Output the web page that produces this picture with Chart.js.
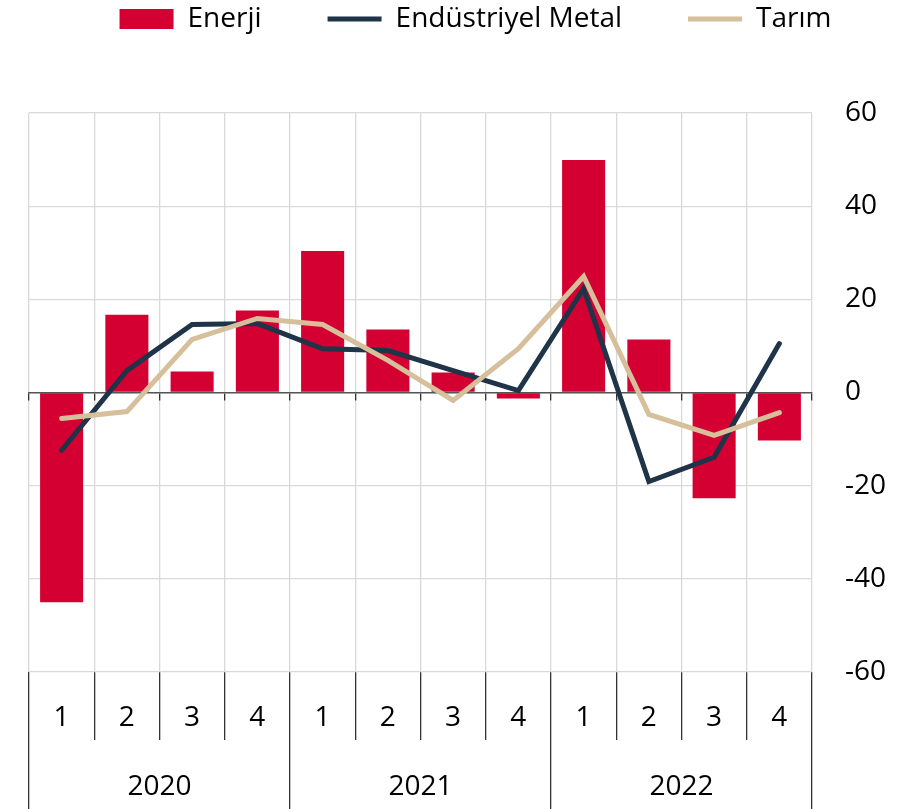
<!DOCTYPE html>
<html>
<head>
<meta charset="utf-8">
<script src="https://cdn.jsdelivr.net/npm/chart.js@4/dist/chart.umd.min.js"></script>
<style>
  html, body { margin: 0; padding: 0; background: #fff; }
  #wrap { width: 922px; height: 809px; }
</style>
</head>
<body>
<div id="wrap"><canvas id="chart"></canvas></div>
<script>
const quarters = ['1', '2', '3', '4', '1', '2', '3', '4', '1', '2', '3', '4'];
const years = ['2020', '2021', '2022'];
const enerji = [-45, 16.7, 4.5, 17.6, 30.4, 13.5, 4.3, -1.3, 49.9, 11.4, -22.7, -10.3];
const metal = [-12.4, 4.7, 14.6, 14.8, 9.4, 9.0, 4.7, 0.4, 22.3, -19.1, -13.9, 10.5];
const tarim = [-5.6, -4.1, 11.4, 15.9, 14.6, 6.9, -1.7, 9.4, 24.9, -4.7, -9.2, -4.3];
const yTicks = [-60, -40, -20, 0, 20, 40, 60];

Chart.defaults.font.family = '"Open Sans", "Noto Sans", sans-serif';
Chart.defaults.color = '#000';

// extra room under the legend
const legendMargin = {
    id: 'legendMargin',
    beforeInit(chart) {
        const fit = chart.legend.fit;
        chart.legend.fit = function () {
            fit.bind(chart.legend)();
            this.height += 70;
        };
    }
};

const chart = new Chart(
    document.getElementById('chart'),
    {
        type: 'bar',
        data: {
            labels: quarters,
            datasets: [
                {
                    label: 'Enerji',
                    data: enerji,
                    backgroundColor: '#d50032',
                    borderWidth: 0,
                    pointStyle: 'rect',
                    barPercentage: 0.66,
                    categoryPercentage: 1.0,
                    order: 3
                },
                {
                    type: 'line',
                    label: 'Endüstriyel Metal',
                    data: metal,
                    borderColor: '#1f3349',
                    backgroundColor: '#1f3349',
                    borderWidth: 5,
                    borderCapStyle: 'round',
                    pointRadius: 0,
                    pointStyle: 'line',
                    tension: 0,
                    order: 2
                },
                {
                    type: 'line',
                    label: 'Tarım',
                    data: tarim,
                    borderColor: '#d6bf9b',
                    backgroundColor: '#d6bf9b',
                    borderWidth: 5,
                    borderCapStyle: 'round',
                    pointRadius: 0,
                    pointStyle: 'line',
                    tension: 0,
                    order: 1
                }
            ]
        },
        options: {
            responsive: true,
            maintainAspectRatio: false,
            animation: false,
            layout: {
                padding: { top: -61, left: 29, right: 0, bottom: 0 }
            },
            plugins: {
                tooltip: { enabled: false },
                legend: {
                    reverse: true,
                    labels: {
                        usePointStyle: true,
                        pointStyleWidth: 54,
                        boxHeight: 20,
                        padding: 66,
                        font: { size: 28 },
                        color: '#000'
                    }
                }
            },
            scales: {
                x: {
                    type: 'category',
                    position: 'bottom',
                    weight: 0,
                    offset: true,
                    grid: {
                        offset: true,
                        color: '#d9d9d9',
                        tickColor: '#333',
                        tickLength: 68,
                        lineWidth: 1.3
                    },
                    border: { display: false },
                    ticks: {
                        padding: -39,
                        font: { size: 28 },
                        color: '#000',
                        maxRotation: 0,
                        autoSkip: false
                    },
                    afterFit: (scale) => { scale.height = 68; }
                },
                x2: {
                    type: 'category',
                    labels: years,
                    position: 'bottom',
                    weight: 1,
                    offset: true,
                    grid: {
                        offset: true,
                        drawOnChartArea: false,
                        tickColor: '#333',
                        tickLength: 69,
                        lineWidth: 1.3
                    },
                    border: { display: false },
                    ticks: {
                        padding: -39,
                        font: { size: 28 },
                        color: '#000',
                        maxRotation: 0
                    },
                    afterFit: (scale) => { scale.height = 69; }
                },
                x0: {
                    type: 'category',
                    labels: quarters,
                    position: { y: 0 },
                    offset: true,
                    grid: {
                        offset: true,
                        drawOnChartArea: false,
                        tickColor: '#333',
                        tickLength: 7,
                        lineWidth: 1.3
                    },
                    border: { display: true, color: '#555', width: 1.5 },
                    ticks: { display: false }
                },
                y: {
                    position: 'right',
                    min: -60,
                    max: 60,
                    afterBuildTicks: (scale) => {
                        scale.ticks = yTicks.map(v => ({ value: v }));
                    },
                    grid: {
                        color: '#d9d9d9',
                        drawTicks: false,
                        lineWidth: 1.3
                    },
                    border: { display: false },
                    ticks: {
                        padding: 33,
                        font: { size: 28 },
                        color: '#000'
                    },
                    afterFit: (scale) => { scale.width = 110; }
                }
            }
        },
        plugins: [legendMargin]
    }
);
</script>
</body>
</html>
